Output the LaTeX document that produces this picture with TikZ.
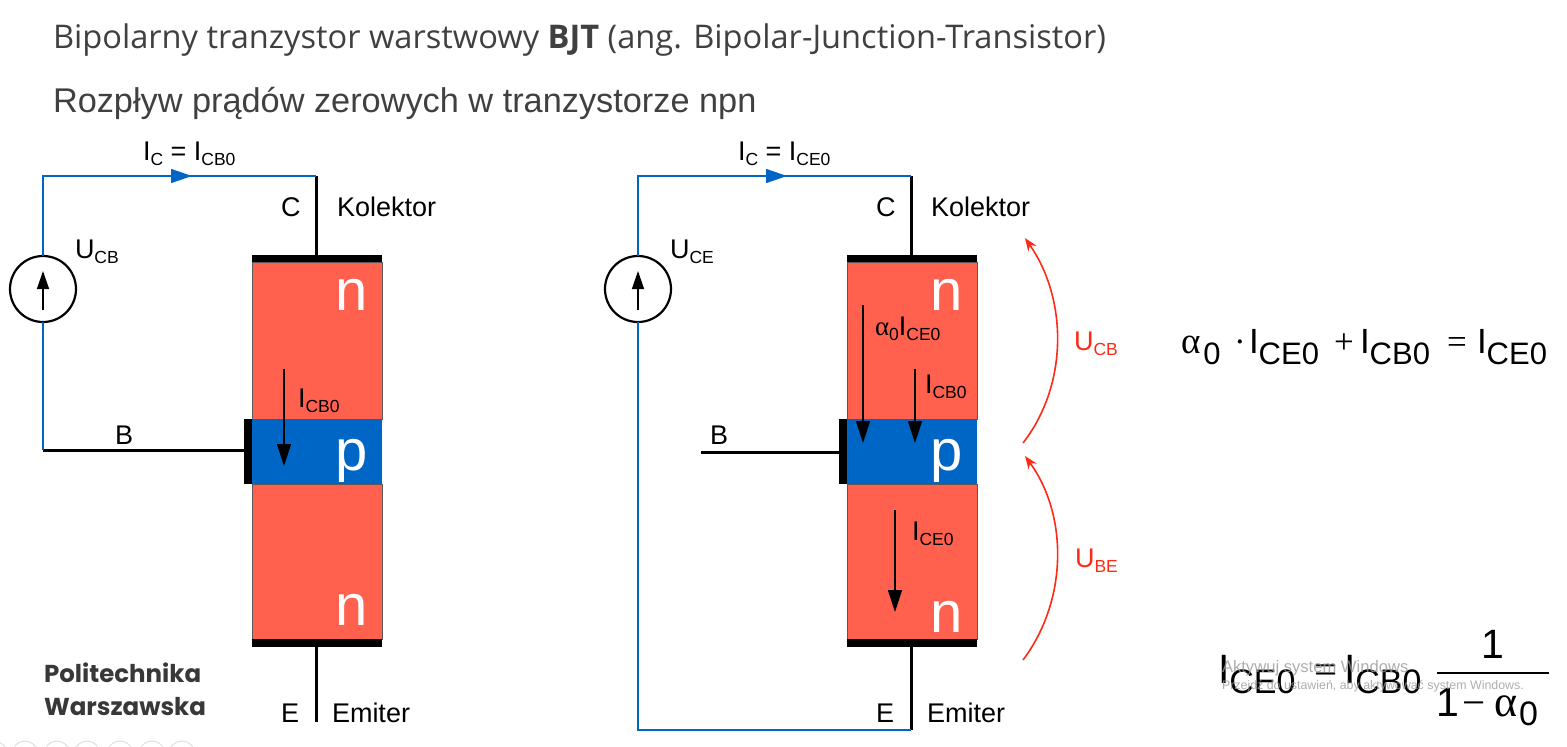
\documentclass[tikz,border=0pt]{standalone}
\usepackage{fontspec}
\setmainfont{Liberation Sans}
\newfontfamily\titlefont{Open Sans}
\newfontfamily\logofont{Poppins}
\newfontfamily\symfont{Liberation Serif}
\usetikzlibrary{arrows.meta}
\definecolor{nred}{HTML}{FF614E}
\definecolor{pblue}{HTML}{0066C6}
\definecolor{wirered}{HTML}{FF2A14}
\definecolor{titlegray}{HTML}{404040}
\tikzstyle{every node}=[inner sep=0pt,outer sep=0pt]
\tikzstyle{nregion}=[rectangle,fill=nred,draw=black!65,line width=0.8pt,minimum width=130pt]
\tikzstyle{pregion}=[rectangle,fill=pblue,minimum width=130pt,minimum height=65pt]
\tikzstyle{contact}=[rectangle,fill=black]
\tikzstyle{source}=[circle,draw=black,fill=white,line width=2.2pt,minimum size=66pt]
\tikzstyle{lead}=[draw=black,line width=3pt]
\tikzstyle{loopwire}=[draw=pblue,line width=1.5pt]
\tikzstyle{current}=[draw=black,line width=1.4pt,-{Triangle[length=22pt,width=14pt]}]
\tikzstyle{voltage}=[draw=wirered,line width=1.6pt,-{Stealth[length=13pt,width=10pt]}]
\tikzstyle{lab}=[font=\fontsize{27}{30}\selectfont,anchor=base west]
\tikzstyle{dope}=[font=\fontsize{58}{60}\selectfont,text=white,anchor=base]
\tikzstyle{eqa}=[font=\fontsize{35}{38}\selectfont,anchor=base west]
\tikzstyle{eqb}=[font=\fontsize{41}{44}\selectfont,anchor=base west]
\newcommand{\sbs}[1]{\raisebox{-0.2em}{\fontsize{17.5}{20}\selectfont #1}}
\newcommand{\fsba}[1]{\raisebox{-11pt}{\fontsize{31}{34}\selectfont #1}}
\newcommand{\fsbb}[1]{\raisebox{-10pt}{\fontsize{34}{36}\selectfont #1}}
\newcommand{\alf}{{\symfont α}}

\begin{document}
\begin{tikzpicture}[x=1pt,y=-1pt]
    \useasboundingbox (0,0) rectangle (1567,747);
    \node [anchor=base west,text=titlegray,font=\titlefont\fontsize{32.6}{34}\selectfont] (title) at (53,48)
      {Bipolarny tranzystor warstwowy \textbf{BJT} (ang. Bipolar-Junction-Transistor)};
    \node [anchor=base west,text=titlegray,font=\fontsize{34.3}{36}\selectfont] (subtitle) at (53,112)
      {Rozpływ prądów zerowych w tranzystorze npn};

    % left transistor
    \node [nregion,minimum height=157pt] (ntopL) at (317,340.5) {};
    \node [nregion,minimum height=155pt] (nbotL) at (317,561.5) {};
    \node [pregion] (pL) at (317,451.5) {};
    \node [contact,minimum width=130pt,minimum height=7pt] (ctopL) at (317,258.5) {};
    \node [contact,minimum width=130pt,minimum height=8pt] (cbotL) at (317,642.5) {};
    \node [contact,minimum width=8pt,minimum height=65pt] (cbaseL) at (248,451.5) {};
    \node [source] (srcL) at (43,289) {};
    \coordinate (topcornerL) at (43,176);
    \coordinate (topleadL) at (316,176);
    \coordinate (basecornerL) at (43,450);
    \coordinate (endleadL) at (316,722);
    \draw [lead] (topleadL) -- (topleadL |- ctopL.north);
    \draw [lead] (endleadL |- cbotL.south) -- (endleadL);
    \draw [lead] (basecornerL) -- (cbaseL.west |- basecornerL);
    \draw [loopwire] (srcL.north) -- (topcornerL) -- (topleadL);
    \draw [loopwire] (srcL.south) -- (basecornerL);
    \draw [draw=pblue,-{Triangle[length=21pt,width=14pt]},line width=1.5pt] (topcornerL) -- (192,176);
    \draw [draw=black,line width=1.4pt,-{Triangle[length=18pt,width=12pt]}] (43,310) -- (srcL.center |- 0,271);
    \draw [current] (284,369) -- (284,466);
    \node [dope] (n1L) at (352,310) {n};
    \node [dope] (pL1) at (352,470) {p};
    \node [dope] (n2L) at (352,625) {n};
    \node [lab] (icL) at (143,160) {I\sbs{C} = I\sbs{CB0}};
    \node [lab] (ucbL) at (75,258) {U\sbs{CB}};
    \node [lab] (cL) at (281,216) {C};
    \node [lab] (kolL) at (337,216) {Kolektor};
    \node [lab] (bL) at (115,444) {B};
    \node [lab] (eL) at (281,722) {E};
    \node [lab] (emL) at (332,722) {Emiter};
    \node [lab] (icbL) at (298,407) {I\sbs{CB0}};

    % right transistor
    \node [nregion,minimum height=157pt] (ntopR) at (912,340.5) {};
    \node [nregion,minimum height=155pt] (nbotR) at (912,561.5) {};
    \node [pregion] (pR) at (912,451.5) {};
    \node [contact,minimum width=130pt,minimum height=7pt] (ctopR) at (912,258.5) {};
    \node [contact,minimum width=130pt,minimum height=8pt] (cbotR) at (912,642.5) {};
    \node [contact,minimum width=8pt,minimum height=65pt] (cbaseR) at (843,451.5) {};
    \node [source] (srcR) at (638,289) {};
    \coordinate (topcornerR) at (638,176);
    \coordinate (topleadR) at (911,176);
    \coordinate (botcornerR) at (638,730);
    \coordinate (botleadR) at (911,730);
    \coordinate (basestartR) at (701,452);
    \draw [lead] (topleadR) -- (topleadR |- ctopR.north);
    \draw [lead] (botleadR |- cbotR.south) -- (botleadR);
    \draw [lead] (basestartR) -- (cbaseR.west |- basestartR);
    \draw [loopwire] (srcR.north) -- (topcornerR) -- (topleadR);
    \draw [loopwire] (srcR.south) -- (botcornerR) -- (botleadR);
    \draw [draw=pblue,-{Triangle[length=21pt,width=14pt]},line width=1.5pt] (topcornerR) -- (787,176);
    \draw [draw=black,line width=1.4pt,-{Triangle[length=18pt,width=12pt]}] (638,310) -- (srcR.center |- 0,271);
    \draw [current] (863,305) -- (863,443);
    \draw [current] (915,369) -- (915,443);
    \draw [current] (895,510) -- (895,612);
    \node [dope] (n1R) at (947,310) {n};
    \node [dope] (pR1) at (947,470) {p};
    \node [dope] (n2R) at (947,632) {n};
    \node [lab] (icR) at (738,160) {I\sbs{C} = I\sbs{CE0}};
    \node [lab] (uceR) at (670,258) {U\sbs{CE}};
    \node [lab] (cR) at (876,216) {C};
    \node [lab] (kolR) at (931,216) {Kolektor};
    \node [lab] (bR) at (710,444) {B};
    \node [lab] (eR) at (876,722) {E};
    \node [lab] (emR) at (927,722) {Emiter};
    \node [lab] (aiR) at (875,335) {\alf\sbs{0}I\sbs{CE0}};
    \node [lab] (icbR) at (925,393) {I\sbs{CB0}};
    \node [lab] (iceR) at (912,540) {I\sbs{CE0}};

    % voltages
    \coordinate (ucbstart) at (1023,443);
    \coordinate (ucbend) at (1025,238);
    \coordinate (ubestart) at (1023,660);
    \coordinate (ubeend) at (1025,456);
    \draw [voltage] (ucbstart) .. controls (1068,385) and (1068,300) .. (ucbend);
    \draw [voltage] (ubestart) .. controls (1068,600) and (1068,515) .. (ubeend);
    \node [lab,text=wirered] (ucb) at (1074,350) {U\sbs{CB}};
    \node [lab,text=wirered] (ube) at (1075,567) {U\sbs{BE}};

    % formulas
    \node [eqa] (eqalpha) at (1181,353) {{\fontsize{37}{40}\selectfont\alf}\kern3pt\fsba{0}};
    \node [eqa] (eqdot) at (1234,353) {\symfont ·};
    \node [eqa] (eqice) at (1249,353) {I\fsba{CE0}};
    \node [eqa] (eqplus) at (1334,353) {\symfont +};
    \node [eqa] (eqicb) at (1360,353) {I\fsba{CB0}};
    \node [eqa] (eqsign) at (1447,353) {\symfont =};
    \node [eqa] (eqres) at (1477,353) {I\fsba{CE0}};
    \node [eqb] (eqleft) at (1218,683) {I\fsbb{CE0}};
    \node [eqb] (eqmid) at (1314,683) {\symfont =};
    \node [eqb] (eqright) at (1344,683) {I\fsbb{CB0}};
    \coordinate (fracleft) at (1437,673);
    \coordinate (fracright) at (1549,673);
    \draw [draw=black,line width=1.2pt] (fracleft) -- (fracright);
    \node [eqb] (fracnum) at (1481,658) {1};
    \node [eqb] (fracone) at (1436,716) {1};
    \node [eqb] (fracminus) at (1462,716) {\symfont −};
    \node [eqb] (fracalpha) at (1494,716) {{\fontsize{44}{46}\selectfont\alf}\kern2pt\fsbb{\raisebox{1pt}{0}}};

    % logo, watermark, toolbar
    \node [anchor=base west,text=black!78,font=\logofont\bfseries\fontsize{24.5}{28}\selectfont] (logoa) at (44,682) {Politechnika};
    \node [anchor=base west,text=black!78,font=\logofont\bfseries\fontsize{24.5}{28}\selectfont] (logob) at (44,715) {Warszawska};
    \node [anchor=base west,text=black!40,opacity=0.8,font=\fontsize{16.6}{20}\selectfont] (wma) at (1222,672) {Aktywuj system Windows};
    \node [anchor=base west,text=black!40,opacity=0.8,font=\fontsize{12.4}{14}\selectfont] (wmb) at (1222,689) {Przejdź do ustawień, aby aktywować system Windows.};
    \begin{scope}
      \clip (0,0) rectangle (1567,747);
      \foreach \cx in {-6,25,57,87,120,152,182}
        \draw [black!15,line width=0.8pt] (\cx,754) circle (13pt);
    \end{scope}
\end{tikzpicture}
\end{document}
